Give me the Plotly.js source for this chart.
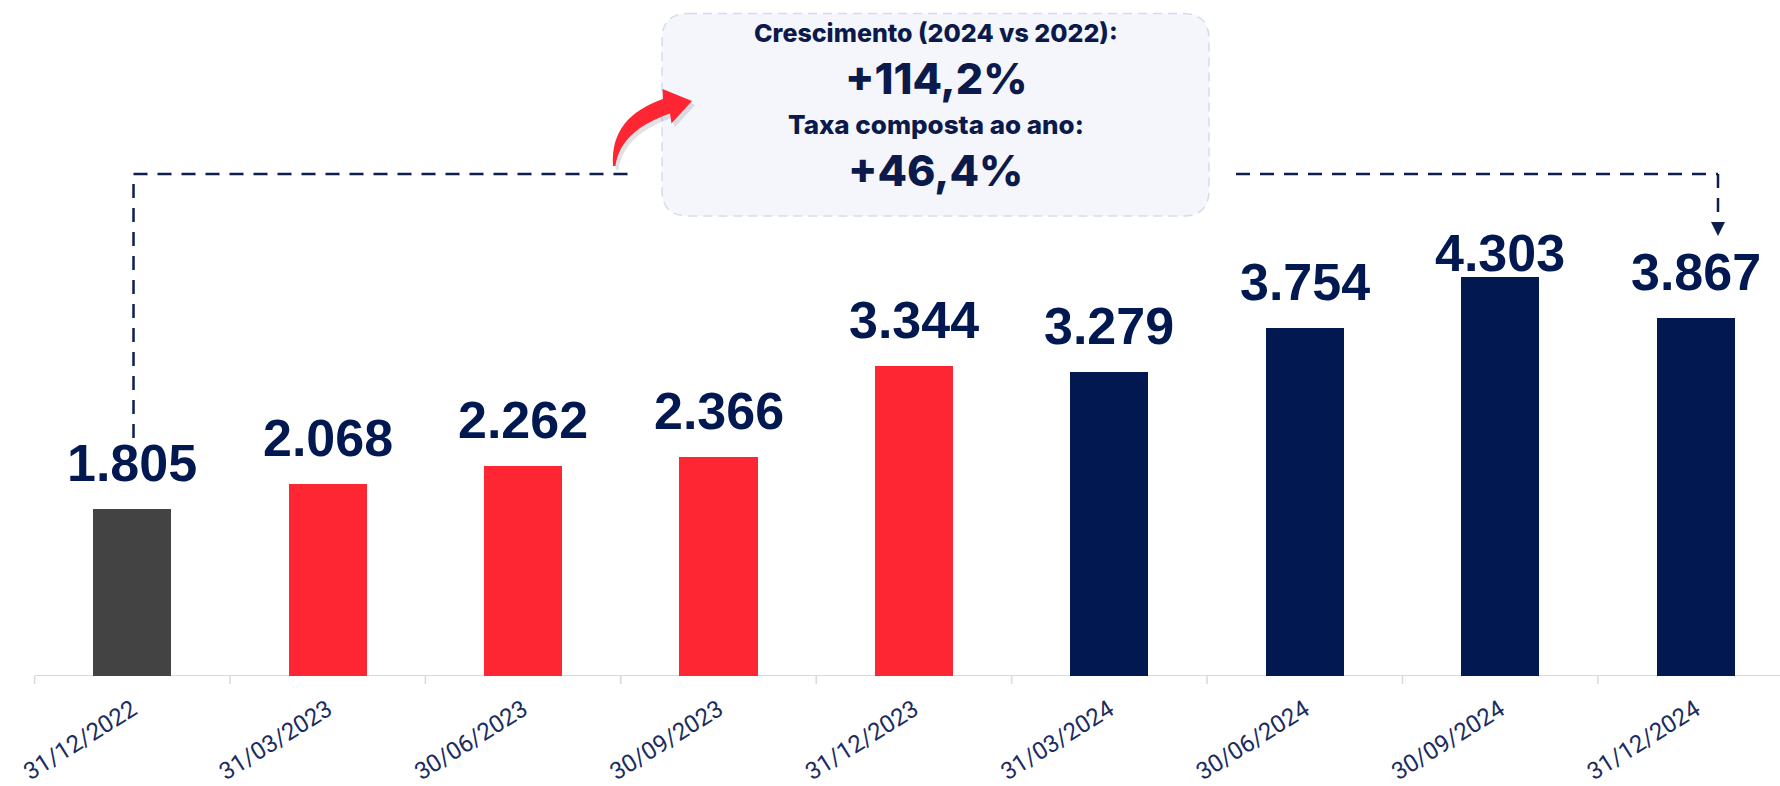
<!DOCTYPE html>
<html>
<head>
<meta charset="utf-8">
<script src="https://cdn.plot.ly/plotly-3.0.1.min.js"></script>
<style>
html,body{margin:0;padding:0;background:#ffffff;overflow:hidden;}
#chart{width:1780px;height:786px;}
</style>
</head>
<body>
<div id="chart"></div>
<script>
// ---- data ----
const categories = ["31/12/2022","31/03/2023","30/06/2023","30/09/2023","31/12/2023","31/03/2024","30/06/2024","30/09/2024","31/12/2024"];
const values = [1805, 2068, 2262, 2366, 3344, 3279, 3754, 4303, 3867];
const boxTitle1 = "Crescimento (2024 vs 2022):";
const boxTitle2 = "Taxa composta ao ano:";

// ---- styles ----
const NAVY = "#011850";
const RED = "#FF2633";
const GRAY = "#434343";
const barColors = [GRAY, RED, RED, RED, RED, NAVY, NAVY, NAVY, NAVY];
const labelGap = [27, 27, 27, 27, 27, 27, 27, 5, 27];

const W = 1780, H = 786, MB = 110;
const PH = H - MB;
const px = (x) => x / W;
const py = (y) => (PH - y) / PH;

function fmtThousands(v){ return String(v).replace(/\B(?=(\d{3})+(?!\d))/g, "."); }
function fmtPct(v){ return "+" + v.toFixed(1).replace(".", ",") + "%"; }

const first = values[0], last = values[values.length - 1];
const growth = (last / first - 1) * 100;
const cagr = (Math.pow(last / first, 1 / 2) - 1) * 100;

const trace = {
  type: "bar",
  x: categories.map((c, i) => i),
  y: values,
  width: 0.4,
  marker: { color: barColors, line: { width: 0 } },
  hoverinfo: "skip"
};

const annotations = values.map((v, i) => ({
  x: i, y: v, xref: "x", yref: "y",
  text: fmtThousands(v),
  showarrow: false,
  yanchor: "bottom", xanchor: "center",
  yshift: labelGap[i] - 11,
  borderpad: 0,
  font: { family: "Liberation Sans, Arial, sans-serif", size: 52, color: NAVY, weight: 700 }
}));

const boxFont = "Inter, Roboto, sans-serif";
const boxCx = px(935.5);
[
  { t: boxTitle1, y: 33, s: 25 },
  { t: fmtPct(growth), y: 78, s: 43 },
  { t: boxTitle2, y: 124, s: 26 },
  { t: fmtPct(cagr), y: 170, s: 43 }
].forEach(o => annotations.push({
  x: boxCx, y: py(o.y), xref: "paper", yref: "paper",
  text: o.t, showarrow: false,
  xanchor: "center", yanchor: "middle",
  font: { family: boxFont, size: o.s, color: "#0B1A4A", weight: 800 }
}));

function roundRect(x0, y0, x1, y1, r){
  const p = (x, y) => px(x) + "," + py(y);
  return "M" + p(x0 + r, y0) + " L" + p(x1 - r, y0) + " Q" + p(x1, y0) + " " + p(x1, y0 + r) +
         " L" + p(x1, y1 - r) + " Q" + p(x1, y1) + " " + p(x1 - r, y1) +
         " L" + p(x0 + r, y1) + " Q" + p(x0, y1) + " " + p(x0, y1 - r) +
         " L" + p(x0, y0 + r) + " Q" + p(x0, y0) + " " + p(x0 + r, y0) + " Z";
}
function pathPx(cmds){
  return cmds.map(c => {
    const pts = [];
    for (let k = 1; k < c.length; k += 2) pts.push(px(c[k]) + "," + py(c[k + 1]));
    return c[0] + pts.join(" ");
  }).join(" ") + " Z";
}

const dashStyle = { color: "#0D1E4F", width: 2.5, dash: "14px,10px" };
const arrowPath = (dx, dy) => pathPx([
  ["M", 613 + dx, 166 + dy],
  ["C", 611 + dx, 130 + dy, 630 + dx, 111 + dy, 663 + dx, 99 + dy],
  ["L", 662.5 + dx, 89 + dy],
  ["L", 692 + dx, 101 + dy],
  ["L", 671.5 + dx, 123.5 + dy],
  ["L", 670 + dx, 113.5 + dy],
  ["C", 640 + dx, 124 + dy, 619 + dx, 140 + dy, 615.5 + dx, 166 + dy]
]);

const shapes = [
  { type: "line", xref: "x", yref: "y", x0: -0.5, x1: 8.45, y0: 0, y1: 0,
    line: { color: "#D9D9D9", width: 2 }, layer: "below" },
  { type: "path", xref: "paper", yref: "paper", path: roundRect(662, 13.5, 1209, 216, 26),
    fillcolor: "#F4F6FB", line: { color: "#D3DCEB", width: 1.5, dash: "9px,6px" }, layer: "below" },
  { type: "line", xref: "paper", yref: "paper", x0: px(133.5), x1: px(133.5), y0: py(438), y1: py(174), line: dashStyle },
  { type: "line", xref: "paper", yref: "paper", x0: px(133.5), x1: px(636), y0: py(174), y1: py(174), line: dashStyle },
  { type: "line", xref: "paper", yref: "paper", x0: px(1236), x1: px(1718), y0: py(174), y1: py(174), line: dashStyle },
  { type: "line", xref: "paper", yref: "paper", x0: px(1718), x1: px(1718), y0: py(174), y1: py(223), line: dashStyle },
  { type: "path", xref: "paper", yref: "paper",
    path: pathPx([["M", 1711, 222], ["L", 1725, 222], ["L", 1718, 236]]),
    fillcolor: "#0D1E4F", line: { width: 0 } },
  { type: "path", xref: "paper", yref: "paper", path: arrowPath(3, 4),
    fillcolor: "rgba(60,60,80,0.15)", line: { width: 0 } },
  { type: "path", xref: "paper", yref: "paper", path: arrowPath(0, 0),
    fillcolor: "#FF2633", line: { width: 0 } }
];

const layout = {
  width: W, height: H,
  margin: { l: 0, r: 0, t: 0, b: MB, pad: 0 },
  paper_bgcolor: "#ffffff", plot_bgcolor: "#ffffff",
  showlegend: false,
  bargap: 0,
  xaxis: {
    type: "linear",
    range: [-0.677, 8.432],
    tickmode: "array",
    tickvals: categories.map((c, i) => i),
    ticktext: categories,
    tickangle: -32,
    ticks: "",
    ticklabelstandoff: 14,
    showline: false, showgrid: false, zeroline: false,
    automargin: false,
    tickfont: { family: "Roboto, sans-serif", size: 24, color: "#1B2C5E" },
    fixedrange: true
  },
  yaxis: {
    range: [0, 7295],
    visible: false, showgrid: false, zeroline: false,
    fixedrange: true
  },
  annotations: annotations,
  shapes: shapes.concat(
    categories.map((c, i) => ({
      type: "line", xref: "x", yref: "paper", x0: i - 0.5, x1: i - 0.5,
      y0: 0, y1: -8 / PH, line: { color: "#D9D9D9", width: 1.5 }
    }))
  )
};

Plotly.newPlot("chart", [trace], layout, { displayModeBar: false, staticPlot: true });
</script>
</body>
</html>
